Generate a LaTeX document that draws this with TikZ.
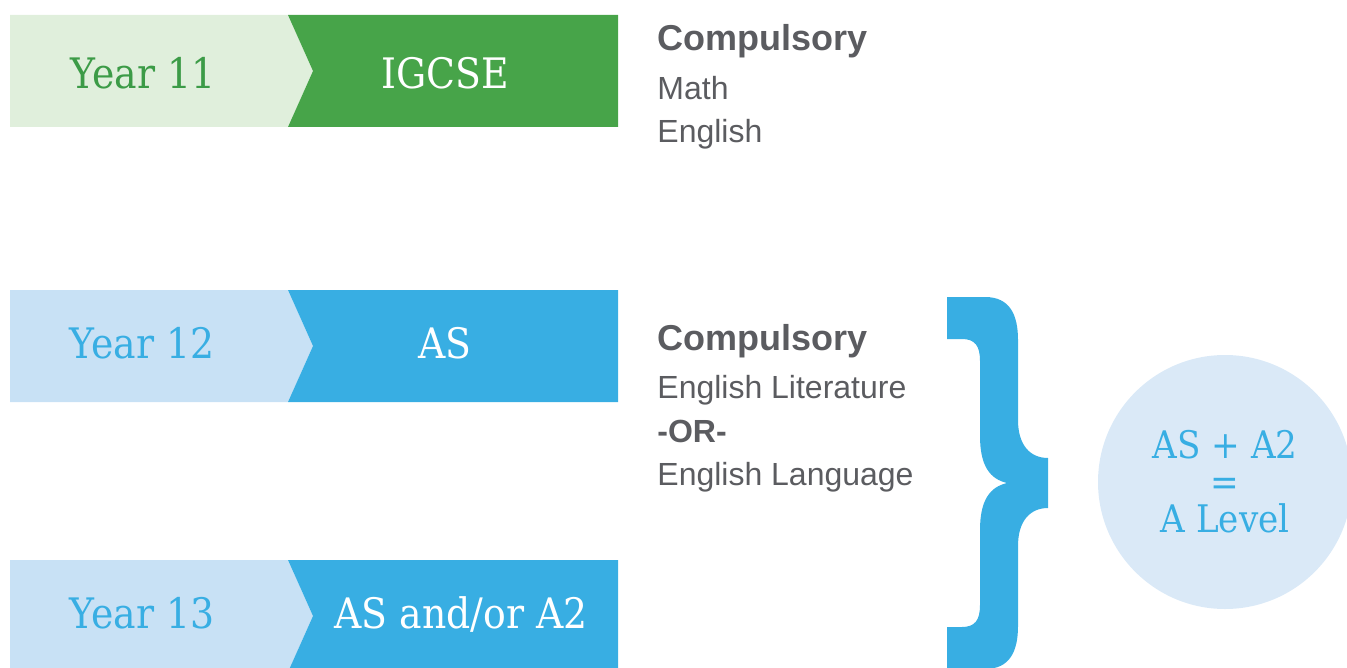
\documentclass[tikz,border=0pt]{standalone}
\usepackage{fontspec}
\setmainfont[FakeStretch=0.9]{DejaVu Serif}
\setsansfont{Liberation Sans}
\usepackage{xcolor}
\definecolor{greendark}{HTML}{47A449}
\definecolor{greenlight}{HTML}{E0EFDC}
\definecolor{greentext}{HTML}{3C9B47}
\definecolor{bluedark}{HTML}{38AEE3}
\definecolor{bluelight}{HTML}{C8E1F5}
\definecolor{bluecircle}{HTML}{DAE9F7}
\definecolor{textgray}{HTML}{5B5C60}

\begin{document}
\begin{tikzpicture}[x = 0.5pt, y = -0.5pt,
    year/.style = {anchor = base, inner sep = 0pt, font = \fontsize{21}{24}\selectfont},
    level/.style = {anchor = base, inner sep = 0pt, text = white, font = \fontsize{21}{24}\selectfont},
    head/.style = {anchor = base west, inner sep = 0pt, text = textgray, font = \sffamily\bfseries\fontsize{18}{20}\selectfont},
    subject/.style = {anchor = base west, inner sep = 0pt, text = textgray, font = \sffamily\fontsize{16}{18}\selectfont}]

        \useasboundingbox (0, 0) rectangle (1347, 668);

        % Bars
        \fill [greenlight] (10, 15) -- (288, 15) -- (313, 71) -- (288, 127) -- (10, 127) -- cycle;
        \fill [greendark] (288, 15) -- (618, 15) -- (618, 127) -- (288, 127) -- (313, 71) -- cycle;
        \fill [bluelight] (10, 290) -- (288, 290) -- (313, 346) -- (288, 402) -- (10, 402) -- cycle;
        \fill [bluedark] (288, 290) -- (618, 290) -- (618, 402) -- (288, 402) -- (313, 346) -- cycle;
        \fill [bluelight] (10, 560) -- (288, 560) -- (313, 616) -- (288, 672) -- (10, 672) -- cycle;
        \fill [bluedark] (288, 560) -- (618, 560) -- (618, 672) -- (288, 672) -- (313, 616) -- cycle;

        % Years
        \node [year, text = greentext] (y11) at (143, 89) {Year 11};
        \node [level] (igcse) at (445, 89) {IGCSE};
        \node [year, text = bluedark] (y12) at (142, 358) {Year 12};
        \node [level] (as) at (445, 358) {AS};
        \node [year, text = bluedark] (y13) at (142, 628) {Year 13};
        \node [level] (asa) at (461, 628) {AS and/or A2};

        % Subjects
        \node [head] (c1) at (657, 51) {Compulsory};
        \node [subject] (math) at (657, 100) {Math};
        \node [subject] (eng) at (657, 143) {English};
        \node [head] (c2) at (657, 350) {Compulsory};
        \node [subject] (lit) at (657, 398) {English Literature};
        \node [subject, font = \sffamily\bfseries\fontsize{16}{18}\selectfont] (or) at (657, 442) {-OR-};
        \node [subject] (lang) at (657, 485) {English Language};

        % Brace
        \fill [bluedark] (947, 297) -- (985, 297) .. controls (1010, 297) and (1018, 315) .. (1018, 340)
            -- (1018, 420) .. controls (1018, 445) and (1030, 458) .. (1048, 458)
            -- (1048, 508) .. controls (1030, 508) and (1018, 521) .. (1018, 546)
            -- (1018, 626) .. controls (1018, 651) and (1010, 669) .. (985, 669)
            -- (947, 669) -- (947, 627) -- (962, 627) .. controls (975, 627) and (980, 620) .. (980, 605)
            -- (980, 530) .. controls (980, 500) and (990, 487) .. (1007, 483)
            .. controls (990, 479) and (980, 466) .. (980, 436)
            -- (980, 361) .. controls (980, 346) and (975, 339) .. (962, 339) -- (947, 339) -- cycle;

        % A Level
        \node [circle, fill = bluecircle, minimum size = 127pt, inner sep = 0pt, align = center,
            text = bluedark, font = \fontsize{19}{18.5}\selectfont] (alevel) at (1225, 482)
            {AS + A2\\=\\A Level};

    \end{tikzpicture}
\end{document}
